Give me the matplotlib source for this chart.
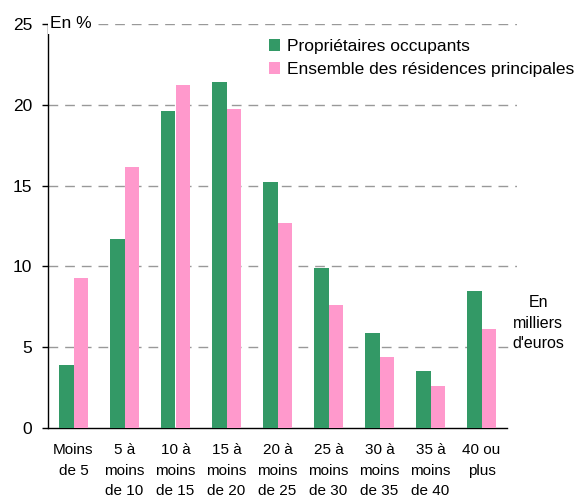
import matplotlib
matplotlib.use("Agg")
import matplotlib.pyplot as plt
import numpy as np

plt.rcParams['font.family'] = ['Liberation Sans', 'DejaVu Sans']

categories = ["Moins\nde 5", "5 à\nmoins\nde 10", "10 à\nmoins\nde 15", "15 à\nmoins\nde 20",
              "20 à\nmoins\nde 25", "25 à\nmoins\nde 30", "30 à\nmoins\nde 35", "35 à\nmoins\nde 40",
              "40 ou\nplus"]
proprietaires = [3.9, 11.7, 19.6, 21.4, 15.2, 9.9, 5.9, 3.5, 8.5]
ensemble = [9.3, 16.15, 21.2, 19.75, 12.7, 7.6, 4.4, 2.6, 6.1]
yticks = [0, 5, 10, 15, 20, 25]

green = "#339966"
pink = "#FF99CC"

W, H = 577, 498
fig = plt.figure(figsize=(W/100, H/100), dpi=100)
ax = fig.add_axes([48/W, (H-428)/H, (517-48)/W, (428-24)/H])

x = np.arange(len(categories))
bw = 0.285
ax.bar(x - bw/2, proprietaires, bw, color=green, label="Propriétaires occupants", zorder=3)
ax.bar(x + bw/2, ensemble, bw, color=pink, label="Ensemble des résidences principales", zorder=3)

ax.set_xlim(-0.5, 8.5 + 10/51)
ax.set_ylim(0, 25)
ax.set_yticks(yticks)
ax.set_yticklabels([str(t) for t in yticks], fontsize=12.5)
ax.tick_params(axis='y', direction='out', length=4.5, width=1, pad=7)
ax.set_xticks(x)
ax.set_xticklabels(categories, fontsize=11, linespacing=1.6, va='top')
ax.tick_params(axis='x', length=0, pad=11)

for s in ['top', 'right']:
    ax.spines[s].set_visible(False)
ax.spines['bottom'].set_bounds(-0.5, 8.5)
ax.spines['left'].set_linewidth(1)
ax.spines['bottom'].set_linewidth(1)

for t in yticks[1:]:
    ax.axhline(t, color='#999999', lw=1, dashes=(7, 5), zorder=1)

ax.text(0.005, 1.0, "En %", transform=ax.transAxes, fontsize=12.5, va='center', ha='left',
        bbox=dict(facecolor='white', edgecolor='none', pad=2), zorder=4)

leg = ax.legend(loc='upper left', bbox_to_anchor=((269-48)/(517-48), (428-39)/(428-24)),
                frameon=False, fontsize=12.5, handlelength=0.65, handleheight=0.65,
                handletextpad=0.4, labelspacing=0.45, borderaxespad=0, borderpad=0)

fig.text(538/W, 1 - 323/H, "En\nmilliers\nd'euros", ha='center', va='center', fontsize=11.5,
         linespacing=1.45)

fig.savefig("out.png", dpi=100, facecolor='white')
